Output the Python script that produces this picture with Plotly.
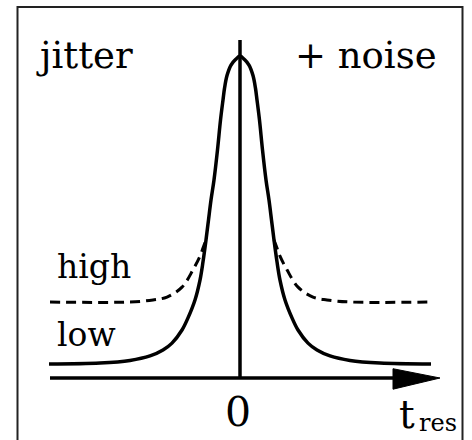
import plotly.graph_objects as go

# time axis (arbitrary units) and curve amplitudes
t_low = [-1.91, -1.40, -1.10, -0.90, -0.77, -0.68, -0.58, -0.52, -0.45, -0.40, -0.37, -0.34,
         -0.315, -0.29, -0.26, -0.225, -0.195, -0.17, -0.155, -0.13, -0.09, -0.045, 0.0,
         0.045, 0.09, 0.13, 0.155, 0.17, 0.195, 0.225, 0.26, 0.29, 0.315, 0.34, 0.37, 0.40,
         0.45, 0.52, 0.58, 0.68, 0.77, 0.90, 1.10, 1.40, 1.91]
a_low = [0.044, 0.047, 0.055, 0.069, 0.0875, 0.109, 0.150, 0.188, 0.244, 0.306, 0.363, 0.431,
         0.494, 0.556, 0.619, 0.713, 0.806, 0.869, 0.905, 0.945, 0.978, 0.995, 1.006,
         0.995, 0.978, 0.945, 0.905, 0.869, 0.806, 0.713, 0.619, 0.556, 0.494, 0.431, 0.363, 0.306,
         0.244, 0.188, 0.150, 0.109, 0.0875, 0.069, 0.055, 0.047, 0.044]

t_high_left = [-1.90, -1.10, -0.87, -0.73, -0.58, -0.47, -0.40, -0.37, -0.34]
a_high_left = [0.2375, 0.2375, 0.244, 0.253, 0.284, 0.338, 0.381, 0.406, 0.431]
t_high_right = [0.34, 0.37, 0.40, 0.47, 0.58, 0.73, 0.87, 1.10, 1.91]
a_high_right = [0.431, 0.406, 0.381, 0.338, 0.284, 0.253, 0.244, 0.2375, 0.2375]

labels = {"jitter": "jitter", "noise": "+ noise", "high": "high", "low": "low",
          "zero": "0", "t": "t", "res": "res"}

W, H = 472, 440
# pixel mapping of the data: px = 240 + 100*x ; py = 378 - 320*y
XR = [-2.40, 2.32]
YR = [(378 - H) / 320, 378 / 320]

fig = go.Figure()
line_col = "black"
LW = 3.5
fig.add_trace(go.Scatter(x=t_high_left, y=a_high_left, mode="lines", line_shape="spline",
                         line=dict(color=line_col, width=3, dash="10px,6px"), hoverinfo="skip"))
fig.add_trace(go.Scatter(x=t_high_right, y=a_high_right, mode="lines", line_shape="spline",
                         line=dict(color=line_col, width=3, dash="10px,6px"), hoverinfo="skip"))
fig.add_trace(go.Scatter(x=t_low, y=a_low, mode="lines", line_shape="spline",
                         line=dict(color=line_col, width=LW), hoverinfo="skip"))

shapes = [
    dict(type="line", x0=-1.90, x1=1.6, y0=0, y1=0, line=dict(color="black", width=LW)),
    dict(type="line", x0=0, x1=0, y0=0, y1=1.056, line=dict(color="black", width=LW)),
    dict(type="path", path="M 1.53,0.029 L 2.0,0 L 1.53,-0.035 Z",
         fillcolor="black", line=dict(color="black", width=1)),
    dict(type="rect", x0=-2.225, x1=2.225, y0=-0.30, y1=1.159,
         line=dict(color="#222", width=2)),
]

SERIF = "DejaVu Serif"


def ann(text, px, py, size):
    return dict(text=text, x=px / W, y=1 - py / H, xref="paper", yref="paper",
                xanchor="center", yanchor="middle", showarrow=False,
                font=dict(family=SERIF, size=size, color="black"))


annotations = [
    ann(labels["jitter"], 84, 56, 37),
    ann(labels["noise"], 366, 56, 37),
    ann(labels["high"], 94, 266, 33),
    ann(labels["low"], 86, 334, 33),
    ann(labels["zero"], 238, 412, 41),
    ann(labels["t"], 407, 414, 39),
    ann(labels["res"], 438, 423, 24),
]

fig.update_layout(
    width=W, height=H, margin=dict(l=0, r=0, t=0, b=0),
    paper_bgcolor="white", plot_bgcolor="white", showlegend=False,
    xaxis=dict(range=XR, visible=False, fixedrange=True),
    yaxis=dict(range=YR, visible=False, fixedrange=True),
    shapes=shapes, annotations=annotations,
)

fig.write_html("out.html")
